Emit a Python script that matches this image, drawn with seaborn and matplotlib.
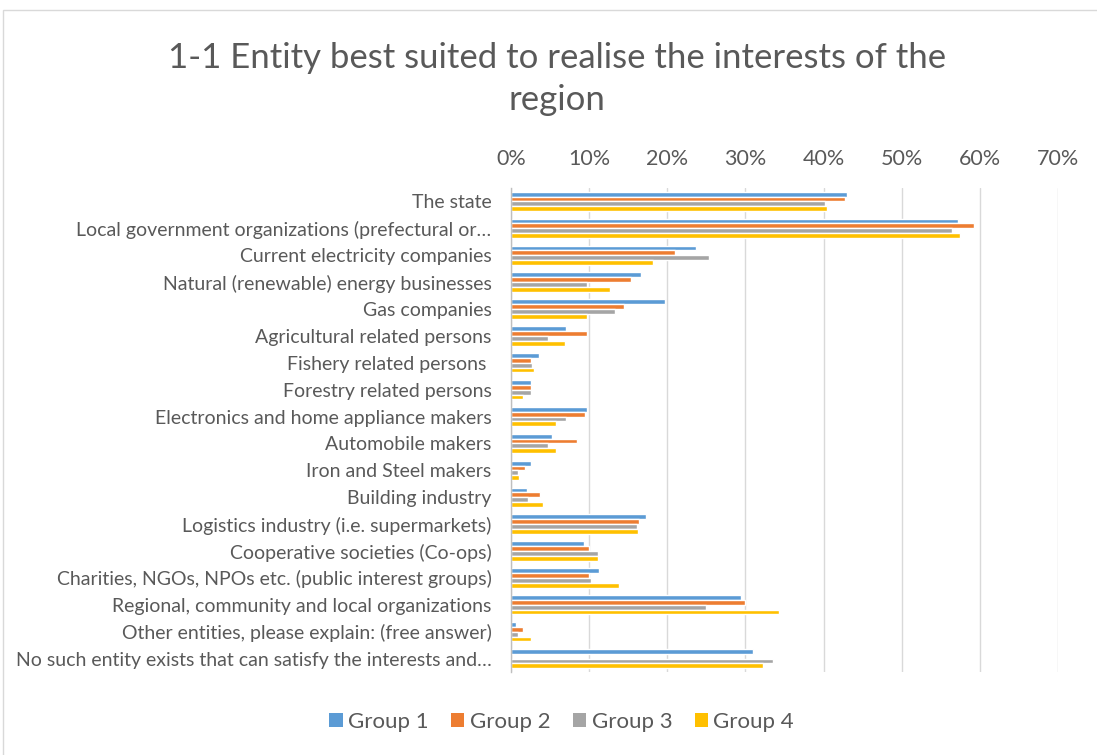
import matplotlib
matplotlib.use("Agg")
import matplotlib.pyplot as plt
from matplotlib.patches import Patch, Rectangle
from matplotlib.ticker import FuncFormatter
import seaborn as sns
import pandas as pd

categories = [
    "The state",
    "Local government organizations (prefectural or…",
    "Current electricity companies",
    "Natural (renewable) energy businesses",
    "Gas companies",
    "Agricultural related persons",
    "Fishery related persons ",
    "Forestry related persons",
    "Electronics and home appliance makers",
    "Automobile makers",
    "Iron and Steel makers",
    "Building industry",
    "Logistics industry (i.e. supermarkets)",
    "Cooperative societies (Co-ops)",
    "Charities, NGOs, NPOs etc. (public interest groups)",
    "Regional, community and local organizations",
    "Other entities, please explain: (free answer)",
    "No such entity exists that can satisfy the interests and…",
]

group1 = [43.0, 57.2, 23.7, 16.6, 19.7, 7.1, 3.6, 2.5, 9.7, 5.3, 2.5, 2.0, 17.3, 9.4, 11.3, 29.5, 0.7, 31.0]
group2 = [42.7, 59.3, 21.0, 15.3, 14.5, 9.7, 2.5, 2.6, 9.5, 8.4, 1.8, 3.7, 16.4, 10.0, 10.0, 29.9, 1.5, 0.0]
group3 = [40.2, 56.4, 25.4, 9.7, 13.3, 4.8, 2.7, 2.6, 7.1, 4.8, 0.85, 2.2, 16.1, 11.2, 10.2, 25.0, 0.85, 33.5]
group4 = [40.4, 57.5, 18.2, 12.7, 9.7, 6.9, 3.0, 1.5, 5.8, 5.8, 1.0, 4.1, 16.2, 11.2, 13.8, 34.3, 2.6, 32.3]

group_names = ["Group 1", "Group 2", "Group 3", "Group 4"]
colors = ["#5B9BD5", "#ED7D31", "#A5A5A5", "#FFC000"]
x_ticks = [0, 10, 20, 30, 40, 50, 60, 70]

title = "1-1 Entity best suited to realise the interests of the\nregion"

rows = []
for name, vals in zip(group_names, [group1, group2, group3, group4]):
    for cat, v in zip(categories, vals):
        rows.append({"Entity": cat, "Group": name, "Share": v})
df = pd.DataFrame(rows)

sns.set_theme(style="white")
plt.rcParams["font.family"] = ["Lato", "DejaVu Sans"]

fig = plt.figure(figsize=(10.97, 7.55), dpi=100)
ax = fig.add_axes([0.4658, 0.1099, 0.4986, 0.6411])

sns.barplot(data=df, y="Entity", x="Share", hue="Group", hue_order=group_names,
            order=categories, palette=colors, orient="h", width=0.72,
            saturation=1, gap=0, ax=ax, legend=False)

ax.set_xlim(0, 70)
ax.set_xticks(x_ticks)
ax.xaxis.set_major_formatter(FuncFormatter(lambda v, p: f"{v:.0f}%"))
ax.xaxis.tick_top()
ax.tick_params(axis="x", length=0, pad=14, labelsize=15.5, labelcolor="#595959")
ax.tick_params(axis="y", length=0, pad=14, labelsize=14, labelcolor="#595959")
ax.set_xlabel("")
ax.set_ylabel("")
ax.grid(axis="x", color="#D9D9D9", linewidth=1)
ax.set_axisbelow(True)
for s in ["top", "right", "bottom"]:
    ax.spines[s].set_visible(False)
ax.spines["left"].set_color("#BFBFBF")
ax.spines["left"].set_linewidth(1)

fig.text(0.508, 0.895, title, ha="center", va="center", fontsize=25,
         color="#595959", linespacing=1.4)

handles = [Patch(facecolor=c, edgecolor="none", label=n) for c, n in zip(colors, group_names)]
fig.legend(handles=handles, loc="center", bbox_to_anchor=(0.512, 0.044), ncol=4,
           frameon=False, fontsize=16, handlelength=0.6, handleheight=0.6,
           handletextpad=0.25, columnspacing=1.0, labelcolor="#595959")

fig.patches.append(Rectangle((0.003, -0.02), 1.1, 1.0068, transform=fig.transFigure,
                             fill=False, edgecolor="#D9D9D9", linewidth=1))

fig.savefig("out.png", dpi=100)
